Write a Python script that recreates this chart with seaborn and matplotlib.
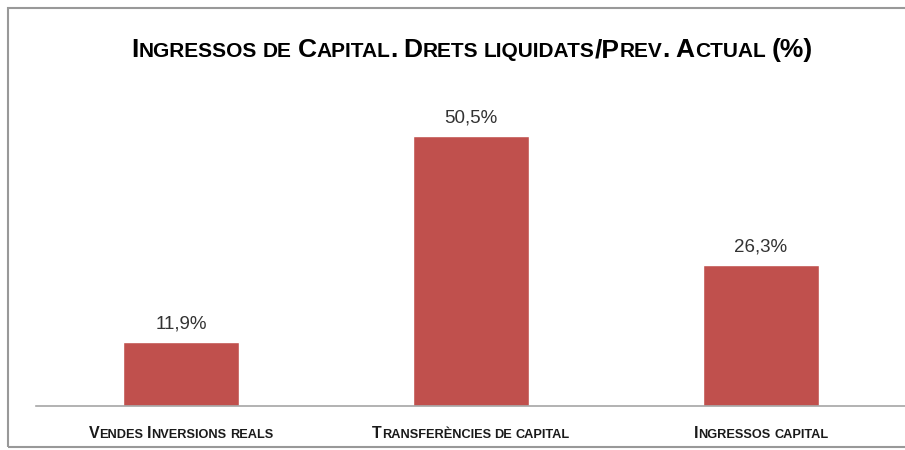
import matplotlib
matplotlib.use("Agg")
import matplotlib.pyplot as plt
import seaborn as sns
import pandas as pd
from matplotlib.patches import Rectangle

# Donnees
categories = ["Vendes Inversions reals", "Transferències de capital", "Ingressos capital"]
valors = [11.9, 50.5, 26.3]
etiquetes = ["11,9%", "50,5%", "26,3%"]
titol = "Ingressos de Capital. Drets liquidats/Prev. Actual (%)"

sns.set_theme(style="white")
plt.rcParams["font.family"] = ["Liberation Sans Narrow", "Liberation Sans", "DejaVu Sans"]

W, H, DPI = 905, 450, 100
fig = plt.figure(figsize=(W / DPI, H / DPI), dpi=DPI)
ax = fig.add_axes([36 / W, 1 - 406 / H, 870 / W, (406 - 85) / H])

df = pd.DataFrame({"cat": categories, "val": valors})
sns.barplot(data=df, x="cat", y="val", color="#C0504D", saturation=1,
            width=0.4, ax=ax)
ax.set_xlim(-0.5, 2.5)
ax.set_ylim(0, 60)
ax.set_xlabel("")
ax.set_ylabel("")
ax.set_xticks(range(3))
ax.set_xticklabels([])
ax.set_yticks([])
for s in ["top", "right", "left"]:
    ax.spines[s].set_visible(False)
ax.spines["bottom"].set_color("#A6A6A6")
ax.spines["bottom"].set_linewidth(1.2)
ax.tick_params(axis="x", length=0)

for i, (v, lab) in enumerate(zip(valors, etiquetes)):
    ax.annotate(lab, (i, v), xytext=(0, 7), textcoords="offset points",
                ha="center", va="bottom", fontsize=13.5, color="#333333",
                family=["Liberation Sans", "DejaVu Sans"])

# Marc de la figura
fig.patches.append(Rectangle((8 / W, 3 / H), 1.0, 1 - 11 / H, transform=fig.transFigure,
                             fill=False, edgecolor="#999999", lw=1.5, clip_on=False))

renderer = fig.canvas.get_renderer()


def amplada(txt, size, weight):
    t = fig.text(0, 0, txt, fontsize=size, fontweight=weight)
    w = t.get_window_extent(renderer).width
    t.remove()
    return w


def versaletes(xc, yb, s, gran, petit, weight="bold", color="black"):
    # versaletes simulades: majuscules grans, minuscules en majuscula petita
    trossos = []
    for ch in s:
        if ch == " ":
            trossos.append([" ", petit])
            continue
        mida = petit if ch.islower() else gran
        if trossos and trossos[-1][1] == mida and trossos[-1][0] != " ":
            trossos[-1][0] += ch.upper()
        else:
            trossos.append([ch.upper(), mida])
    amples = []
    for t, mida in trossos:
        if t == " ":
            amples.append(amplada("a a", mida, weight) - amplada("aa", mida, weight))
        else:
            amples.append(amplada(t, mida, weight))
    x = xc - sum(amples) / 2
    for (t, mida), w in zip(trossos, amples):
        if t != " ":
            fig.text(x / W, 1 - yb / H, t, fontsize=mida, fontweight=weight,
                     color=color, ha="left", va="baseline")
        x += w


versaletes(472, 57, titol, 19, 15)

for i, c in enumerate(categories):
    xc = ax.transData.transform((i, 0))[0]
    versaletes(xc, 438, c, 11.5, 9.2, color="#1a1a1a")

fig.savefig("out.png", dpi=DPI)
